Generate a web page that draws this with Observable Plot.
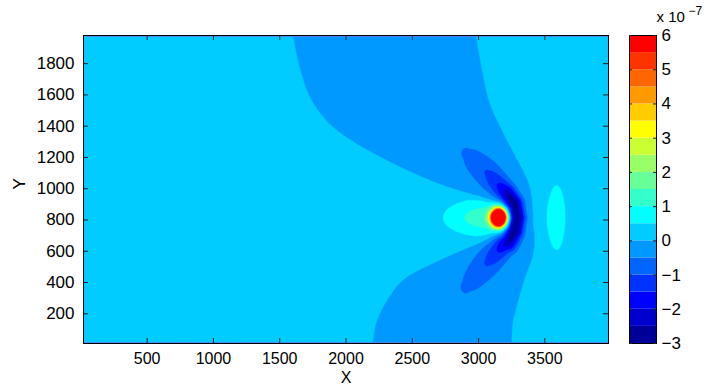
<!DOCTYPE html>
<html><head><meta charset="utf-8">
<script src="https://cdn.jsdelivr.net/npm/d3@7"></script>
<script src="https://cdn.jsdelivr.net/npm/@observablehq/plot@0.6"></script>
<style>
body{margin:0;background:#fff}
#chart{position:relative;width:705px;height:386px}
#chart svg{position:absolute;left:0;top:0}
</style></head><body><div id="chart"></div>
<script>
// contour levels (units of 1e-7) and MATLAB jet(18) band colours
const levels = [-3,-2.5,-2,-1.5,-1,-0.5,0,0.5,1,1.5,2,2.5,3,3.5,4,4.5,5,5.5,6];
const bandColors = ["#000099","#0000cc","#0000ff","#0033ff","#0066ff","#0099ff","#00ccff","#00ffff",
  "#33ffcc","#66ff99","#99ff66","#ccff33","#ffff00","#ffcc00","#ff9900","#ff6600","#ff3300","#ff0000"];
const xTicks = [500,1000,1500,2000,2500,3000,3500];
const yTicks = [200,400,600,800,1000,1200,1400,1600,1800];
const cbTicks = [-3,-2,-1,0,1,2,3,4,5,6];
const xDomain = [20, 3980];
const yDomain = [10, 1980];
const gridX = [20, 3980];
const gridY = [20, 1970];

// far-field level
const background = 0.25;
// broad weakly negative wedge (band -0.5..0): left/right edges read by Y
const wedgeY     = [10,   61,   157,  285,  435,  574,  678,  720,  815,  906,  936,  1053, 1203, 1373, 1544, 1758, 1935, 1980];
const wedgeLeft  = [2203, 2208, 2233, 2309, 2459, 2786, 3062, 3120, 3150, 3110, 3012, 2635, 2258, 1931, 1755, 1655, 1609, 1600];
const wedgeRight = [3248, 3252, 3263, 3301, 3353, 3412, 3431, 3438, 3450, 3425, 3414, 3371, 3281, 3178, 3086, 3027, 2990, 2982];
const wedgeDepth = -0.5;
// negative crescent and its two arms: ridge line with depth and width
const ridgeX   = [2815, 2905, 3065, 3140, 3186, 3225, 3272, 3290, 3272, 3213, 3186, 3140, 3065, 2910, 2820];
const ridgeY   = [320,  372,  525,  597,  640,  660,  735,  815,  895,  968,  989,  1033, 1103, 1225, 1285];
const ridgeAmp = [0, -0.3, -0.8, -1.25, -1.8, -2.35, -3.1, -3.37, -3.1, -2.35, -1.8, -1.25, -0.8, -0.3, 0];
const ridgeW   = [72,  70,   64,   55,   48,   44,   42,   42,   42,   44,   48,   55,   64,   70,   72];
// positive features: peak, elongated lobe, small ellipse on the right
const blobX   = [3152, 3060, 3587];
const blobY   = [815,  815,  815];
const blobAmp = [13,   1.1,  0.5];
const blobSx  = [37,   190,  55];
const blobSy  = [37,   71,   177];

function monotone(xs, ys) {
  const n = xs.length, d = [], m = new Array(n);
  for (let i = 0; i < n - 1; i++) d[i] = (ys[i + 1] - ys[i]) / (xs[i + 1] - xs[i]);
  m[0] = d[0]; m[n - 1] = d[n - 2];
  for (let i = 1; i < n - 1; i++) m[i] = d[i - 1] * d[i] <= 0 ? 0 : (d[i - 1] + d[i]) / 2;
  for (let i = 0; i < n - 1; i++) {
    if (d[i] === 0) { m[i] = m[i + 1] = 0; continue; }
    const a = m[i] / d[i], b = m[i + 1] / d[i], s = a * a + b * b;
    if (s > 9) { const t = 3 / Math.sqrt(s); m[i] = t * a * d[i]; m[i + 1] = t * b * d[i]; }
  }
  return x => {
    if (x <= xs[0]) return ys[0];
    if (x >= xs[n - 1]) return ys[n - 1];
    let i = 0; while (x > xs[i + 1]) i++;
    const h = xs[i + 1] - xs[i], t = (x - xs[i]) / h, t2 = t * t, t3 = t2 * t;
    return (2 * t3 - 3 * t2 + 1) * ys[i] + (t3 - 2 * t2 + t) * h * m[i] + (-2 * t3 + 3 * t2) * ys[i + 1] + (t3 - t2) * h * m[i + 1];
  };
}
const wL = monotone(wedgeY, wedgeLeft);
const wR = monotone(wedgeY, wedgeRight);

function field(x, y) {
  let v = background;
  const L = wL(y), R = wR(y);
  const u = (x - (L + R) / 2) / ((R - L) / 2);
  v += wedgeDepth * Math.exp(-Math.LN2 * u * u * u * u);
  for (let k = 0; k < blobX.length; k++) {
    const dx = x - blobX[k], dy = y - blobY[k];
    v += blobAmp[k] * Math.exp(-(dx * dx / (2 * blobSx[k] ** 2) + dy * dy / (2 * blobSy[k] ** 2)));
  }
  let r = 0;
  for (let k = 0; k < ridgeX.length - 1; k++) {
    const ax = ridgeX[k], ay = ridgeY[k], bx = ridgeX[k + 1], by = ridgeY[k + 1];
    const ex = bx - ax, ey = by - ay;
    let t = ((x - ax) * ex + (y - ay) * ey) / (ex * ex + ey * ey);
    t = Math.max(0, Math.min(1, t));
    const px = ax + t * ex - x, py = ay + t * ey - y;
    const d2 = px * px + py * py;
    const amp = ridgeAmp[k] + t * (ridgeAmp[k + 1] - ridgeAmp[k]);
    const w = ridgeW[k] + t * (ridgeW[k + 1] - ridgeW[k]);
    r = Math.min(r, amp * Math.exp(-d2 / (2 * w * w)));
  }
  return v + r;
}

const nx = 396, ny = 195;
const values = new Array(nx * ny);
for (let j = 0; j < ny; j++) {
  const y = gridY[0] + (j + 0.5) * (gridY[1] - gridY[0]) / ny;
  for (let i = 0; i < nx; i++) {
    const x = gridX[0] + (i + 0.5) * (gridX[1] - gridX[0]) / nx;
    values[j * nx + i] = field(x, y);
  }
}
const thresholds = [d3.min(values) - 1, ...levels.slice(1, -1)];
const colorScale = {type: "threshold", domain: levels.slice(1, -1), range: bandColors};
const font = {fontFamily: "'Liberation Sans', Arial, sans-serif", fontSize: "17px", background: "transparent", color: "black"};
const fmt = d3.format("d");

const main = Plot.plot({
  width: 705, height: 386, marginLeft: 83, marginRight: 97, marginTop: 35, marginBottom: 43,
  style: font,
  x: {domain: xDomain, axis: null},
  y: {domain: yDomain, axis: null},
  color: colorScale,
  marks: [
    Plot.contour(values, {value: d => d, width: nx, height: ny, x1: gridX[0], x2: gridX[1], y1: gridY[0], y2: gridY[1],
      thresholds, fill: "value", stroke: "value", strokeWidth: 0.4}),
    Plot.frame({stroke: "black"}),
    Plot.tickX(xTicks, {x: d => d, insetTop: 303, stroke: "#222"}),
    Plot.tickX(xTicks, {x: d => d, insetBottom: 303, stroke: "#222"}),
    Plot.tickY(yTicks, {y: d => d, insetRight: 520, stroke: "#222"}),
    Plot.tickY(yTicks, {y: d => d, insetLeft: 520, stroke: "#222"}),
    Plot.axisX(xTicks, {anchor: "bottom", tickSize: 0, tickPadding: 9, tickFormat: fmt, label: null, fontSize: 16}),
    Plot.axisY(yTicks, {anchor: "left", tickSize: 0, tickPadding: 9, tickFormat: fmt, label: null, fontSize: 17}),
    Plot.text(["X"], {frameAnchor: "bottom", lineAnchor: "middle", dy: 34, fontSize: 16}),
    Plot.text(["Y"], {frameAnchor: "left", lineAnchor: "middle", dx: -64, rotate: -90, fontSize: 17})
  ]
});

const bar = Plot.plot({
  width: 705, height: 386, marginLeft: 629, marginRight: 49, marginTop: 35, marginBottom: 43,
  style: font,
  x: {domain: [0, 1], axis: null},
  y: {domain: [levels[0], levels[levels.length - 1]], axis: null},
  color: colorScale,
  marks: [
    Plot.rect(d3.range(levels.length - 1), {x1: 0, x2: 1, y1: i => levels[i], y2: i => levels[i + 1], fill: i => levels[i]}),
    Plot.frame({stroke: "black"}),
    Plot.tickY(cbTicks, {y: d => d, insetRight: 24, stroke: "#222"}),
    Plot.tickY(cbTicks, {y: d => d, insetLeft: 24, stroke: "#222"}),
    Plot.axisY(cbTicks, {anchor: "right", tickSize: 0, tickPadding: 5, tickFormat: fmt, label: null, fontSize: 17}),
    Plot.text(["x 10"], {frameAnchor: "top-right", lineAnchor: "middle", textAnchor: "start", dy: -18, fontSize: 15}),
    Plot.text(["\u22127"], {frameAnchor: "top-right", lineAnchor: "middle", textAnchor: "start", dx: 32, dy: -24, fontSize: 12})
  ]
});

document.getElementById("chart").append(main, bar);
</script>
</body></html>
